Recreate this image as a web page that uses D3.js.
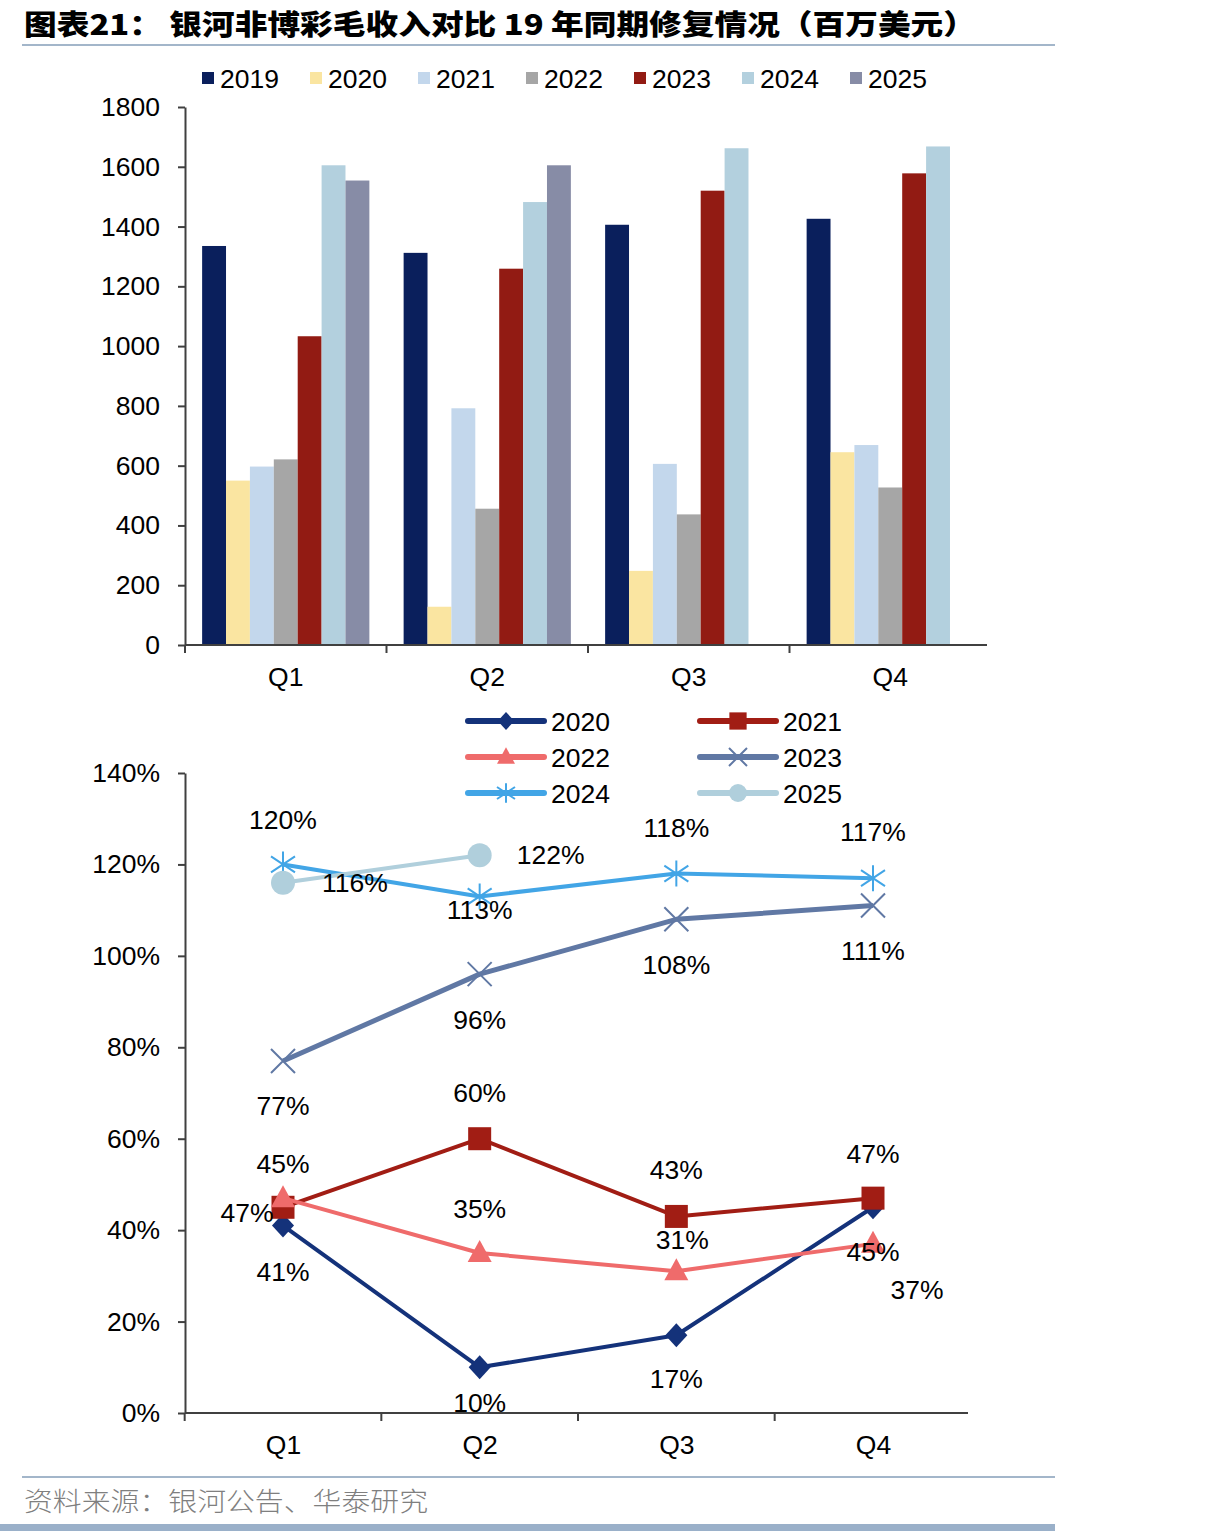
<!DOCTYPE html>
<html>
<head>
<meta charset="utf-8">
<script src="https://cdn.jsdelivr.net/npm/d3@7"></script>
<style>
  body { margin: 0; background: #fff; }
  text { font-family: Arial, "Liberation Sans", sans-serif; fill: #000; }
</style>
</head>
<body>
<div id="chart"></div>
<script>
// ---- data ----
var quarters = ["Q1", "Q2", "Q3", "Q4"];
var barYears = ["2019", "2020", "2021", "2022", "2023", "2024", "2025"];
var rev2019 = [1335, 1312, 1406, 1426];
var rev2020 = [550, 128, 248, 645];
var rev2021 = [597, 792, 606, 669];
var rev2022 = [621, 456, 437, 527];
var rev2023 = [1033, 1259, 1520, 1578];
var rev2024 = [1605, 1482, 1662, 1668];
var rev2025 = [1554, 1605, null, null];
var barTicks = [0, 200, 400, 600, 800, 1000, 1200, 1400, 1600, 1800];

var lineYears = ["2020", "2021", "2022", "2023", "2024", "2025"];
var rec2020 = [41, 10, 17, 45];
var rec2021 = [45, 60, 43, 47];
var rec2022 = [47, 35, 31, 37];
var rec2023 = [77, 96, 108, 111];
var rec2024 = [120, 113, 118, 117];
var rec2025 = [116, 122, null, null];
var lineTicks = [0, 20, 40, 60, 80, 100, 120, 140];

var barSeries = [rev2019, rev2020, rev2021, rev2022, rev2023, rev2024, rev2025];
var lineSeries = [rec2020, rec2021, rec2022, rec2023, rec2024, rec2025];

// ---- styles ----
var barColors = ["#0a1f5c", "#fae5a1", "#c3d7ec", "#a6a6a6", "#921b13", "#b3d0de", "#878ca6"];
var lineColors = ["#14327a", "#a11d14", "#ef6b6b", "#6078a4", "#42a5e6", "#b0cfdc"];
var markerKind = ["diamond", "square", "triangle", "x", "asterisk", "circle"];
var fontSize = "26.5px";
// label offsets from each point [dx, dy]
var labelOffsets = [
  [[0, 46], [0, 36], [0, 44], [0, 45]],
  [[0, -43], [0, -46], [0, -46], [0, -44]],
  [[-36, 15], [0, -44], [6, -31], [44, 46]],
  [[0, 45], [0, 46], [0, 46], [0, 45]],
  [[0, -44], [0, 14], [0, -46], [0, -46]],
  [[72, 0], [71, 0]]
];

var W = 1206, H = 1531;
var svg = d3.select("#chart").append("svg")
  .attr("width", W).attr("height", H);
svg.append("rect").attr("width", W).attr("height", H).attr("fill", "#fff");

// title
svg.append("text")
  .attr("x", 24).attr("y", 35)
  .attr("textLength", 952).attr("lengthAdjust", "spacingAndGlyphs")
  .style("font-family", "'Noto Sans CJK SC', sans-serif")
  .style("font-weight", "900").style("font-size", "28px")
  .text("图表21：  银河非博彩毛收入对比 19 年同期修复情况（百万美元）");
svg.append("line").attr("x1", 22).attr("x2", 1055).attr("y1", 45).attr("y2", 45)
  .attr("stroke", "#a3b6ca").attr("stroke-width", 2);

// footer
svg.append("line").attr("x1", 22).attr("x2", 1055).attr("y1", 1477).attr("y2", 1477)
  .attr("stroke", "#a3b6ca").attr("stroke-width", 2);
svg.append("text")
  .attr("x", 24).attr("y", 1511)
  .attr("textLength", 404).attr("lengthAdjust", "spacingAndGlyphs")
  .style("font-family", "'Noto Sans CJK SC', sans-serif")
  .style("font-weight", "300").style("font-size", "26px")
  .style("fill", "#7f7f7f")
  .text("资料来源：银河公告、华泰研究");
svg.append("rect").attr("x", 0).attr("y", 1524).attr("width", 1055).attr("height", 7)
  .attr("fill", "#9ab0c9");

function styleAxis(g) {
  g.select(".domain").attr("stroke", "#404040").attr("stroke-width", 2);
  g.selectAll(".tick line").attr("stroke", "#404040").attr("stroke-width", 2);
  g.selectAll(".tick text").style("font-size", fontSize).style("fill", "#000")
    .style("font-family", "Arial, 'Liberation Sans', sans-serif");
}

// ================= bar chart =================
var x0 = d3.scaleBand().domain(quarters).range([185, 991]).padding(0);
var x1 = d3.scaleBand().domain(barYears)
  .range([x0.bandwidth() * 0.085, x0.bandwidth() * 0.915]).padding(0);
var yBar = d3.scaleLinear().domain([0, 1800]).range([645, 107]);

var groups = svg.selectAll(".qgroup").data(quarters).enter().append("g")
  .attr("class", "qgroup")
  .attr("transform", d => `translate(${x0(d)},0)`);

groups.selectAll("rect")
  .data((q, qi) => barYears.map((y, yi) => ({ year: y, yi: yi, v: barSeries[yi][qi] }))
    .filter(d => d.v != null))
  .enter().append("rect")
  .attr("x", d => x1(d.year))
  .attr("y", d => yBar(d.v))
  .attr("width", x1.bandwidth())
  .attr("height", d => yBar(0) - yBar(d.v))
  .attr("fill", d => barColors[d.yi]);

var yAxisBar = svg.append("g").attr("transform", "translate(185,0)")
  .call(d3.axisLeft(yBar).tickValues(barTicks).tickFormat(d3.format("d"))
    .tickSize(7).tickPadding(18).tickSizeOuter(0));
styleAxis(yAxisBar);

var xAxisBar = svg.append("g").attr("transform", "translate(0,645)")
  .call(d3.axisBottom(x0).tickSize(0).tickPadding(22).tickSizeOuter(0));
styleAxis(xAxisBar);
xAxisBar.select(".domain").attr("d", "M185,0H987");
xAxisBar.selectAll(".sep").data(quarters).enter().append("line")
  .attr("class", "sep")
  .attr("x1", d => x0(d)).attr("x2", d => x0(d))
  .attr("y1", 0).attr("y2", 8)
  .attr("stroke", "#404040").attr("stroke-width", 2);

// bar legend
var barLeg = svg.selectAll(".blegend").data(barYears).enter().append("g")
  .attr("class", "blegend")
  .attr("transform", (d, i) => `translate(${202 + i * 108},78)`);
barLeg.append("rect").attr("x", 0).attr("y", -6).attr("width", 12).attr("height", 12)
  .attr("fill", (d, i) => barColors[i]);
barLeg.append("text").attr("x", 18).attr("y", 10)
  .style("font-size", fontSize).text(d => d);

// ================= line chart =================
var xLine = d3.scalePoint().domain(quarters).range([283, 873]);
var yLine = d3.scaleLinear().domain([0, 140]).range([1413, 773]);
var step = xLine.step();

var yAxisLine = svg.append("g").attr("transform", "translate(185,0)")
  .call(d3.axisLeft(yLine).tickValues(lineTicks).tickFormat(d => d + "%")
    .tickSize(7).tickPadding(18).tickSizeOuter(0));
styleAxis(yAxisLine);

var xAxisLine = svg.append("g").attr("transform", "translate(0,1413)")
  .call(d3.axisBottom(xLine).tickSize(0).tickPadding(22).tickSizeOuter(0));
styleAxis(xAxisLine);
xAxisLine.select(".domain").attr("d", "M185,0H968");
xAxisLine.selectAll(".sep").data(quarters).enter().append("line")
  .attr("class", "sep")
  .attr("x1", d => xLine(d) - step / 2).attr("x2", d => xLine(d) - step / 2)
  .attr("y1", 0).attr("y2", 8)
  .attr("stroke", "#404040").attr("stroke-width", 2);

function drawMarker(g, kind, color, s) {
  s = s || 1;
  if (kind === "diamond") {
    g.append("path").attr("d", `M0,${-12*s}L${11*s},0L0,${12*s}L${-11*s},0Z`).attr("fill", color);
  } else if (kind === "square") {
    g.append("rect").attr("x", -11.5*s).attr("y", -11.5*s).attr("width", 23*s).attr("height", 23*s)
      .attr("fill", color);
  } else if (kind === "triangle") {
    g.append("path").attr("d", `M0,${-13*s}L${12*s},${9*s}L${-12*s},${9*s}Z`).attr("fill", color);
  } else if (kind === "circle") {
    g.append("circle").attr("r", 12*s).attr("fill", color);
  } else if (kind === "x") {
    g.append("path").attr("d", `M${-12*s},${-12*s}L${12*s},${12*s}M${-12*s},${12*s}L${12*s},${-12*s}`)
      .attr("stroke", color).attr("stroke-width", 2).attr("fill", "none");
  } else if (kind === "asterisk") {
    g.append("path").attr("d", `M0,${-13*s}V${13*s}M${-12*s},${-8*s}L${12*s},${8*s}M${-12*s},${8*s}L${12*s},${-8*s}`)
      .attr("stroke", color).attr("stroke-width", 2).attr("fill", "none");
  }
}

var line = d3.line()
  .defined(d => d.v != null)
  .x(d => xLine(d.q)).y(d => yLine(d.v));

lineSeries.forEach(function (vals, si) {
  var pts = vals.map((v, i) => ({ q: quarters[i], v: v, i: i }));
  svg.append("path").datum(pts)
    .attr("d", line)
    .attr("fill", "none")
    .attr("stroke", lineColors[si])
    .attr("stroke-width", si === 3 ? 5 : 4)
    .attr("stroke-linejoin", "round");
  pts.filter(d => d.v != null).forEach(function (d) {
    var g = svg.append("g").attr("transform", `translate(${xLine(d.q)},${yLine(d.v)})`);
    drawMarker(g, markerKind[si], lineColors[si]);
  });
});

// data labels on top
lineSeries.forEach(function (vals, si) {
  vals.forEach(function (v, i) {
    if (v == null) return;
    var off = labelOffsets[si][i];
    svg.append("text")
      .attr("x", xLine(quarters[i]) + off[0])
      .attr("y", yLine(v) + off[1])
      .attr("text-anchor", "middle")
      .attr("dominant-baseline", "central")
      .style("font-size", fontSize)
      .text(v + "%");
  });
});

// line legend
var lineLeg = svg.selectAll(".llegend").data(lineYears).enter().append("g")
  .attr("class", "llegend")
  .attr("transform", (d, i) => `translate(${i % 2 === 0 ? 466 : 698},${721 + Math.floor(i / 2) * 36})`);
lineLeg.append("line").attr("x1", 2).attr("x2", 78).attr("y1", 0).attr("y2", 0)
  .attr("stroke", (d, i) => lineColors[i]).attr("stroke-width", 6).attr("stroke-linecap", "round");
lineLeg.each(function (d, i) {
  var g = d3.select(this).append("g").attr("transform", "translate(40,0)");
  drawMarker(g, markerKind[i], lineColors[i], 0.75);
});
lineLeg.append("text").attr("x", 85).attr("y", 10)
  .style("font-size", fontSize).text(d => d);
</script>
</body>
</html>
